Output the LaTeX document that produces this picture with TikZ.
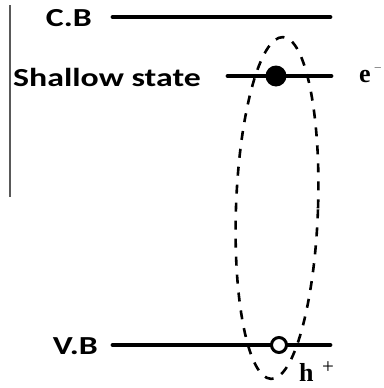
\documentclass[tikz,border=0pt]{standalone}
\usepackage{fontspec}
\setmainfont{Liberation Serif}
\newfontfamily\labelfont{Carlito}
\begin{document}
\begin{tikzpicture}[x=1pt,y=-1pt,
  level/.style={line width=4.8pt,line cap=round},
  bandlabel/.style={font=\labelfont\bfseries\fontsize{26}{26}\selectfont,anchor=east,inner sep=0pt,xscale=1.3},
  carrier/.style={font=\bfseries\fontsize{26}{26}\selectfont,inner sep=0pt,text depth=0pt},
  sign/.style={font=\fontsize{21}{21}\selectfont,inner sep=0pt},
  envelope/.style={line width=2.6pt,dash pattern=on 9pt off 9pt}]
\useasboundingbox (0,0) rectangle (383,388);
% thin frame mark on the left
\draw[line width=1.4pt,black!65] (10,5) -- (10,197);
% energy levels
\coordinate (cbL) at (113,17);  \coordinate (cbR) at (330,17);
\coordinate (ssL) at (228,76);  \coordinate (ssR) at (331,76);
\coordinate (vbL) at (113,345); \coordinate (vbR) at (330,345);
\draw[level] (cbL) -- (cbR);
\draw[level] (ssL) -- (ssR);
\draw[level] (vbL) -- (vbR);
% labels
\node[bandlabel] (cb) at (92,18) {C.B};
\node[bandlabel] (ss) at (201,77) {Shallow state};
\node[bandlabel] (vb) at (98,346) {V.B};
% electron and hole
\node[circle,fill=black,minimum size=21pt,inner sep=0pt] (el) at (276,76) {};
\node[circle,draw=black,fill=white,line width=3pt,minimum size=15pt,inner sep=0pt] (ho) at (279,345) {};
% exciton envelope
\draw[envelope,rotate around={-2:(277,208)}] (277,208) ellipse [x radius=41,y radius=171];
% carrier labels
\node[carrier,anchor=base west] (e) at (359,82) {e};
\node[font=\fontsize{11}{11}\selectfont,inner sep=0pt,anchor=west] (em) at (373.5,68) {$-$};
\node[carrier,anchor=base west] (h) at (299,381) {h};
\node[sign] (hp) at (328,368) {+};
\end{tikzpicture}
\end{document}
